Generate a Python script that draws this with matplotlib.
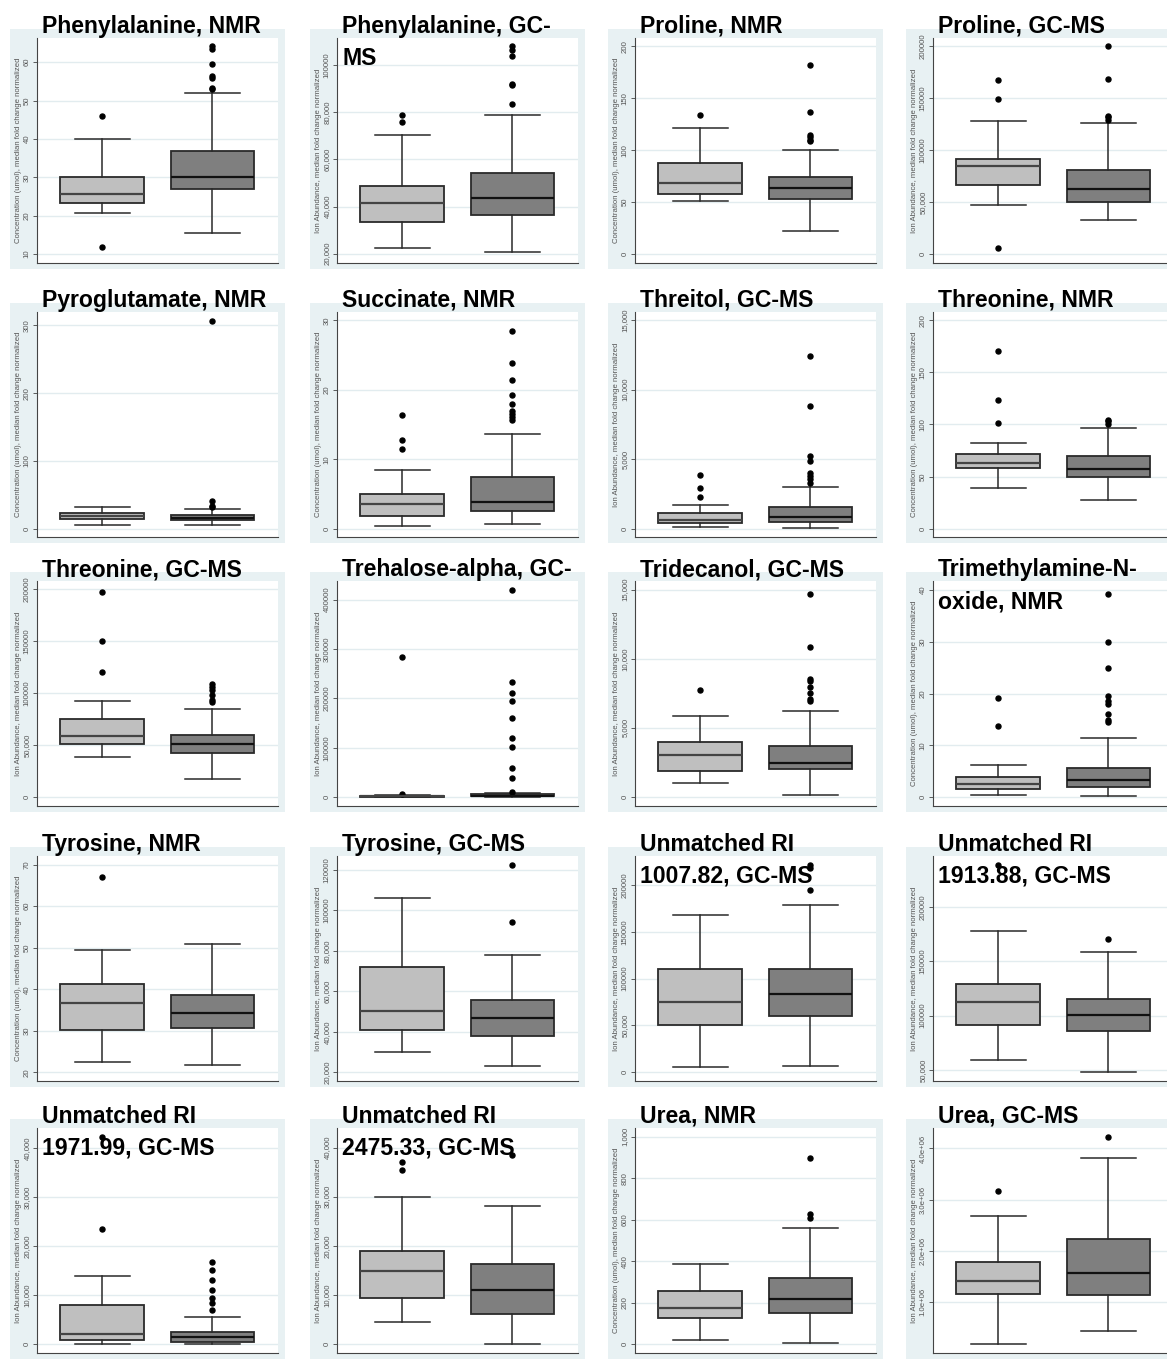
import matplotlib
matplotlib.use("Agg")
import matplotlib.pyplot as plt
from matplotlib.patches import Rectangle

plt.rcParams['font.family'] = ['Liberation Sans', 'DejaVu Sans']

# ---- data -------------------------------------------------------------
titles = [
    "Phenylalanine, NMR", "Phenylalanine, GC-\nMS", "Proline, NMR", "Proline, GC-MS",
    "Pyroglutamate, NMR", "Succinate, NMR", "Threitol, GC-MS", "Threonine, NMR",
    "Threonine, GC-MS", "Trehalose-alpha, GC-", "Tridecanol, GC-MS", "Trimethylamine-N-\noxide, NMR",
    "Tyrosine, NMR", "Tyrosine, GC-MS", "Unmatched RI\n1007.82, GC-MS", "Unmatched RI\n1913.88, GC-MS",
    "Unmatched RI\n1971.99, GC-MS", "Unmatched RI\n2475.33, GC-MS", "Urea, NMR", "Urea, GC-MS",
]
platform = ["NMR", "GC", "NMR", "GC", "NMR", "NMR", "GC", "NMR", "GC", "GC",
            "GC", "NMR", "NMR", "GC", "GC", "GC", "GC", "GC", "NMR", "GC"]
ylabel_text = {
    "NMR": "Concentration (umol), median fold change normalized",
    "GC": "Ion Abundance, median fold change normalized",
}

# group 1 (light boxes): lower whisker, Q1, median, Q3, upper whisker
lo_a = [20.85, 22270, 51.4, 47100, 4.9, 0.34, 145, 39.4, 39000, 100, 1030, 0.38,
        22.5, 30000, 5700, 59200, 150, 4520, 21, 0.18e6]
q1_a = [23.2, 33590, 57.8, 66300, 14.3, 1.78, 410, 58.2, 50600, 600, 1875, 1.54,
        30.2, 40900, 50500, 91400, 880, 9410, 127, 1.16e6]
med_a = [25.7, 41380, 68.4, 84300, 18.2, 3.55, 620, 63.4, 58600, 1300, 3030, 2.5,
         36.7, 50300, 75100, 112600, 2100, 14910, 175, 1.40e6]
q3_a = [30.0, 48600, 87.3, 91700, 23.1, 5.0, 1100, 71.4, 75500, 2600, 3990, 3.9,
        41.3, 72000, 110300, 129100, 8000, 18980, 257, 1.78e6]
hi_a = [40.0, 70270, 121.0, 127600, 31.5, 8.4, 1725, 82.2, 92200, 5000, 5870, 6.3,
        49.5, 106100, 168000, 177900, 13900, 30000, 387, 2.68e6]
out_a = [
    [46.0, 11.8], [75790, 78760], [133.9], [167600, 149400, 5800],
    [], [16.4, 12.8, 11.5], [3830, 2920, 2250], [170.9, 123.2, 101.4],
    [197800, 149800, 120600], [6000, 283500], [7740], [19.2, 13.8],
    [67.0], [], [], [238900],
    [23500, 42300], [35480, 37110], [], [3.16e6],
]

# group 2 (dark boxes)
lo_b = [15.5, 20710, 22.2, 32400, 4.9, 0.67, 70, 27.2, 17300, 100, 120, 0.26,
        21.8, 23100, 6700, 47900, 0, 100, 5, 0.44e6]
q1_b = [27.0, 36420, 53.3, 50000, 12.3, 2.5, 500, 49.6, 42600, 1350, 2000, 1.92,
        30.7, 37900, 60100, 85900, 470, 6150, 151, 1.14e6]
med_b = [30.2, 43790, 63.6, 62200, 16.2, 3.8, 840, 57.3, 51200, 2700, 2475, 3.33,
         34.3, 46800, 83600, 100600, 1500, 11040, 218, 1.56e6]
q3_b = [37.0, 54270, 73.8, 81100, 19.7, 7.4, 1580, 70.1, 60200, 6700, 3725, 5.7,
        38.6, 55700, 110300, 115300, 2500, 16330, 319, 2.22e6]
hi_b = [51.9, 79040, 99.8, 126300, 29.5, 13.6, 2995, 97.0, 85100, 9000, 6250, 11.4,
        50.9, 78000, 178600, 158600, 5600, 28150, 560, 3.82e6]
out_b = [
    [53.05, 53.3, 56.0, 56.4, 59.5, 63.4, 64.1],
    [83720, 91500, 92210, 103820, 106650, 108070],
    [108.5, 110.1, 112.4, 114.6, 136.8, 182.0],
    [128800, 131400, 133000, 168300, 200000],
    [32.0, 33.9, 41.3, 306.9],
    [15.6, 16.1, 16.5, 16.9, 17.9, 19.3, 21.4, 23.8, 28.4],
    [3280, 3570, 3810, 4000, 4890, 5200, 8840, 12430],
    [100.8, 103.0, 104.6],
    [91200, 93100, 98600, 102700, 105600, 108800],
    [10500, 39000, 59300, 101700, 120500, 160900, 194000, 210100, 232300, 420200],
    [6920, 7090, 7520, 7980, 8410, 8530, 10840, 14710],
    [14.5, 14.8, 16.0, 18.0, 18.5, 19.6, 25.0, 29.9, 39.1],
    [], [94300, 122500], [194800, 218300, 221700], [170500],
    [7000, 8400, 9400, 11100, 13100, 15100, 16800], [38530],
    [608, 627, 898], [4.22e6],
]

# y-axis ticks and their printed labels
ytick_vals = [
    [10, 20, 30, 40, 50, 60], [20000, 40000, 60000, 80000, 100000],
    [0, 50, 100, 150, 200], [0, 50000, 100000, 150000, 200000],
    [0, 100, 200, 300], [0, 10, 20, 30], [0, 5000, 10000, 15000],
    [0, 50, 100, 150, 200], [0, 50000, 100000, 150000, 200000],
    [0, 100000, 200000, 300000, 400000], [0, 5000, 10000, 15000],
    [0, 10, 20, 30, 40],
    [20, 30, 40, 50, 60, 70], [20000, 40000, 60000, 80000, 100000, 120000],
    [0, 50000, 100000, 150000, 200000], [50000, 100000, 150000, 200000],
    [0, 10000, 20000, 30000, 40000], [0, 10000, 20000, 30000, 40000],
    [0, 200, 400, 600, 800, 1000], [1e6, 2e6, 3e6, 4e6],
]
ytick_text = [
    ["10", "20", "30", "40", "50", "60"], ["20,000", "40,000", "60,000", "80,000", "100000"],
    ["0", "50", "100", "150", "200"], ["0", "50,000", "100000", "150000", "200000"],
    ["0", "100", "200", "300"], ["0", "10", "20", "30"], ["0", "5,000", "10,000", "15,000"],
    ["0", "50", "100", "150", "200"], ["0", "50,000", "100000", "150000", "200000"],
    ["0", "100000", "200000", "300000", "400000"], ["0", "5,000", "10,000", "15,000"],
    ["0", "10", "20", "30", "40"],
    ["20", "30", "40", "50", "60", "70"], ["20,000", "40,000", "60,000", "80,000", "100000", "120000"],
    ["0", "50,000", "100000", "150000", "200000"], ["50,000", "100000", "150000", "200000"],
    ["0", "10,000", "20,000", "30,000", "40,000"], ["0", "10,000", "20,000", "30,000", "40,000"],
    ["0", "200", "400", "600", "800", "1,000"], ["1.0e+06", "2.0e+06", "3.0e+06", "4.0e+06"],
]
ylims = [
    (7.7, 66.3), (16040, 111600), (-8.7, 208), (-8650, 207700),
    (-12.3, 319.7), (-1.2, 31.2), (-600, 15570), (-8, 208),
    (-8640, 208000), (-18000, 437700), (-650, 15630), (-1.7, 41.7),
    (17.9, 72.1), (15700, 126800), (-9300, 231000), (39900, 246900),
    (-1780, 44080), (-1800, 44000), (-42, 1042), (0.0, 4.4e6),
]

# ---- layout (pixels) --------------------------------------------------
W, H = 1167, 1360
fig = plt.figure(figsize=(W / 100, H / 100), dpi=100)
fig.patch.set_facecolor("white")

col_left = [37, 337, 635, 933]
row_top = [38, 312, 581, 856, 1128]
pw, ph = 241, 225
pos = [0.27, 0.727]
title_line_gap = 32

light, dark = "#bfbfbf", "#7f7f7f"
edge = "#2a2a2a"

for i in range(20):
    r, c = divmod(i, 4)
    x0, y0 = col_left[c], row_top[r]

    fig.add_artist(Rectangle(((x0 - 27) / W, 1 - (y0 + ph + 6) / H),
                             (pw + 34) / W, (ph + 15) / H,
                             transform=fig.transFigure, facecolor="#e8f1f3",
                             edgecolor="none", zorder=0))
    ax = fig.add_axes([x0 / W, 1 - (y0 + ph) / H, pw / W, ph / H])
    ax.set_facecolor("white")

    stats = [
        dict(whislo=lo_a[i], q1=q1_a[i], med=med_a[i], q3=q3_a[i], whishi=hi_a[i], fliers=out_a[i]),
        dict(whislo=lo_b[i], q1=q1_b[i], med=med_b[i], q3=q3_b[i], whishi=hi_b[i], fliers=out_b[i]),
    ]
    bp = ax.bxp(stats, positions=pos, widths=0.345, capwidths=0.228,
                patch_artist=True, showfliers=True,
                boxprops=dict(edgecolor=edge, linewidth=1.3),
                whiskerprops=dict(color=edge, linewidth=1.1),
                capprops=dict(color=edge, linewidth=1.1),
                medianprops=dict(linewidth=1.6),
                flierprops=dict(marker="o", markersize=3.6, markerfacecolor="black",
                                markeredgecolor="black", linestyle="none"))
    for patch, fc in zip(bp["boxes"], [light, dark]):
        patch.set_facecolor(fc)
    bp["medians"][0].set_color("#444444")
    bp["medians"][1].set_color("#111111")

    ax.set_xlim(0, 1)
    ax.set_ylim(*ylims[i])
    ax.set_xticks([])
    ax.set_yticks(ytick_vals[i])
    ax.set_yticklabels(ytick_text[i], rotation=90, va="center", fontsize=5.6, color="#555555")
    ax.tick_params(axis="y", length=3, width=0.6, color="#444444", pad=1.5)
    ax.yaxis.grid(True, color="#e2ecef", linewidth=1.0)
    ax.set_axisbelow(True)
    for s in ("top", "right"):
        ax.spines[s].set_visible(False)
    for s in ("left", "bottom"):
        ax.spines[s].set_color("#444444")
        ax.spines[s].set_linewidth(0.8)
    ax.set_ylabel(ylabel_text[platform[i]], fontsize=5.6, color="#555555", labelpad=1)

    # title lines: first baseline just above the plot area, wrapped lines below
    for k, line in enumerate(titles[i].split("\n")):
        fig.text((x0 + 5) / W, 1 - (y0 - 5 + k * title_line_gap) / H, line,
                 fontsize=16.6, fontweight="bold", ha="left", va="baseline",
                 color="black", zorder=5)

fig.savefig("out.png", dpi=100, facecolor="white")
